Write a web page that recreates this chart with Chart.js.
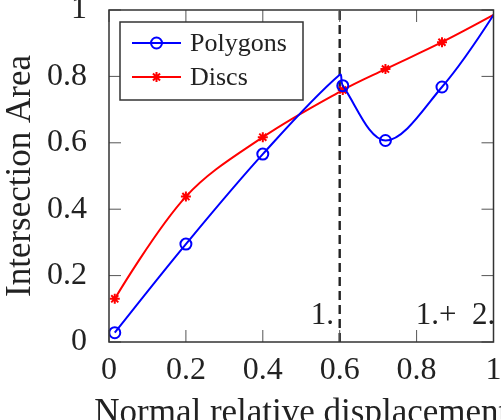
<!DOCTYPE html>
<html>
<head>
<meta charset="utf-8">
<script src="https://cdn.jsdelivr.net/npm/chart.js@4"></script>
<style>
  html, body { margin: 0; padding: 0; background: #fff; overflow: hidden; }
  #wrap { width: 501px; height: 420px; overflow: hidden; }
</style>
</head>
<body>
<div id="wrap"><canvas id="chart" width="501" height="440"></canvas></div>
<script>
// Polygons series (points without a marker listed in polyNoMark)
const polyX = [0.015, 0.2, 0.4, 0.6, 0.608, 0.719, 0.866, 1.0];
const polyY = [0.028, 0.295, 0.566, 0.805, 0.772, 0.607, 0.768, 0.985];
const polyNoMark = [3, 7];

// Discs series
const discX = [0.015, 0.2, 0.4, 0.608, 0.719, 0.866, 1.0];
const discY = [0.13, 0.438, 0.617, 0.759, 0.822, 0.903, 0.985];
const discNoMark = [6];

// axes
const xTicks = [0, 0.2, 0.4, 0.6, 0.8, 1];
const yTicks = [0, 0.2, 0.4, 0.6, 0.8, 1];
const splitX = 0.6;
const noteText = ['1.', '1.+\u20022.'];
const noteX = [0.585, 0.798];
const noteY = [0.078, 0.078];

const SERIF = "'Liberation Serif', 'Times New Roman', serif";
const INK = '#222';

const toPoints = (xs, ys) => xs.map((x, i) => ({ x: x, y: ys[i] }));

function drawMarker(ctx, ds, x, y) {
    ctx.save();
    ctx.strokeStyle = ds.borderColor;
    ctx.lineWidth = ds.pointBorderWidth;
    ctx.beginPath();
    if (ds.pointStyle === 'circle') {
        ctx.arc(x, y, 5.5, 0, Math.PI * 2);
    } else {
        const r = 5;
        for (let k = 0; k < 4; k++) {
            const a = k * Math.PI / 4;
            ctx.moveTo(x - r * Math.cos(a), y - r * Math.sin(a));
            ctx.lineTo(x + r * Math.cos(a), y + r * Math.sin(a));
        }
    }
    ctx.stroke();
    ctx.restore();
}

// pgfplots-like "smooth": the curve leaves the end points towards the
// neighbour's control point instead of along the chord
const smoothEnds = {
    id: 'smoothEnds',
    beforeDatasetsDraw(chart) {
        chart.data.datasets.forEach((ds, i) => {
            const meta = chart.getDatasetMeta(i);
            const line = meta.dataset;
            const pts = meta.data;
            if (!line || !pts.length || typeof line.updateControlPoints !== 'function') return;
            line.updateControlPoints(chart.chartArea, 'x');
            const first = pts[0], last = pts[pts.length - 1];
            first.cp2x = first.x; first.cp2y = first.y;
            last.cp1x = last.x; last.cp1y = last.y;
            line._path = undefined;
        });
    }
};

const framePlugin = {
    id: 'frame',
    beforeDatasetsDraw(chart) {
        const { ctx, chartArea: a, scales: { x } } = chart;
        const sx = x.getPixelForValue(splitX);
        ctx.save();
        ctx.strokeStyle = INK;
        ctx.lineWidth = 2.4;
        ctx.setLineDash([9, 5]);
        ctx.beginPath();
        ctx.moveTo(sx, a.bottom);
        ctx.lineTo(sx, a.top);
        ctx.stroke();
        ctx.restore();
    },
    afterDatasetsDraw(chart) {
        const { ctx, chartArea: a, scales: { x, y } } = chart;
        ctx.save();

        // inner tick marks
        ctx.strokeStyle = '#555';
        ctx.lineWidth = 1;
        ctx.beginPath();
        xTicks.forEach(v => {
            const px = x.getPixelForValue(v);
            ctx.moveTo(px, a.bottom); ctx.lineTo(px, a.bottom - 12);
            ctx.moveTo(px, a.top); ctx.lineTo(px, a.top + 12);
        });
        yTicks.forEach(v => {
            const py = y.getPixelForValue(v);
            ctx.moveTo(a.left, py); ctx.lineTo(a.left + 12, py);
            ctx.moveTo(a.right, py); ctx.lineTo(a.right - 12, py);
        });
        ctx.stroke();

        // frame
        ctx.strokeStyle = '#333';
        ctx.lineWidth = 1.5;
        ctx.strokeRect(a.left, a.top, a.right - a.left, a.bottom - a.top);

        // region notes
        ctx.fillStyle = INK;
        ctx.font = '31px ' + SERIF;
        ctx.textBaseline = 'middle';
        noteText.forEach((t, i) => {
            ctx.textAlign = i === 0 ? 'right' : 'left';
            ctx.fillText(t, x.getPixelForValue(noteX[i]), y.getPixelForValue(noteY[i]));
        });

        // legend box
        const lx = a.left + 11, ly = a.top + 12;
        ctx.fillStyle = '#fff';
        ctx.fillRect(lx, ly, 183, 78);
        ctx.strokeStyle = '#333';
        ctx.lineWidth = 1.5;
        ctx.strokeRect(lx, ly, 183, 78);
        ctx.font = '26px ' + SERIF;
        ctx.textAlign = 'left';
        chart.data.datasets.forEach((ds, i) => {
            const ry = ly + 21 + i * 34;
            ctx.strokeStyle = ds.borderColor;
            ctx.lineWidth = ds.borderWidth;
            ctx.beginPath();
            ctx.moveTo(lx + 12, ry);
            ctx.lineTo(lx + 61, ry);
            ctx.stroke();
            drawMarker(ctx, ds, lx + 36.5, ry);
            ctx.fillStyle = INK;
            ctx.fillText(ds.label, lx + 70, ry + 1);
        });

        // x axis title (wider than the plot, cut off by the page)
        ctx.font = '35px ' + SERIF;
        ctx.textAlign = 'center';
        ctx.textBaseline = 'alphabetic';
        ctx.fillText('Normal relative displacement', (a.left + a.right) / 2, 423);
        ctx.restore();
    }
};

new Chart(document.getElementById('chart').getContext('2d'), {
    type: 'line',
    data: {
        datasets: [{
            label: 'Polygons',
            data: toPoints(polyX, polyY),
            borderColor: 'blue',
            borderWidth: 2,
            pointStyle: 'circle',
            pointRadius: c => polyNoMark.includes(c.dataIndex) ? 0 : 5.5,
            pointBorderWidth: 2,
            pointBorderColor: 'blue',
            pointBackgroundColor: 'rgba(0,0,0,0)',
            tension: 0.35,
            fill: false
        }, {
            label: 'Discs',
            data: toPoints(discX, discY),
            borderColor: 'red',
            borderWidth: 2,
            pointStyle: 'star',
            pointRadius: c => discNoMark.includes(c.dataIndex) ? 0 : 5,
            pointBorderWidth: 2,
            pointBorderColor: 'red',
            pointBackgroundColor: 'red',
            tension: 0.35,
            fill: false
        }]
    },
    options: {
        responsive: false,
        animation: false,
        layout: { padding: { top: 10, right: 6, left: 0, bottom: 0 } },
        plugins: { legend: { display: false }, tooltip: { enabled: false } },
        scales: {
            x: {
                type: 'linear',
                min: 0,
                max: 1,
                grid: { display: false },
                border: { display: false },
                afterBuildTicks: s => { s.ticks = xTicks.map(v => ({ value: v })); },
                ticks: {
                    padding: 1,
                    autoSkip: false,
                    maxRotation: 0,
                    color: INK,
                    font: { family: SERIF, size: 32 },
                    callback: v => String(v)
                },
                afterFit: s => { s.height = 98; s.paddingLeft = 0; s.paddingRight = 0; }
            },
            y: {
                min: 0,
                max: 1,
                grid: { display: false },
                border: { display: false },
                afterBuildTicks: s => { s.ticks = yTicks.map(v => ({ value: v })); },
                ticks: {
                    padding: 14,
                    color: INK,
                    font: { family: SERIF, size: 32 },
                    callback: v => String(v)
                },
                title: {
                    display: true,
                    text: 'Intersection Area',
                    color: INK,
                    padding: 0,
                    font: { family: SERIF, size: 35 }
                },
                afterFit: s => { s.width = 109; s.paddingTop = 0; s.paddingBottom = 0; }
            }
        }
    },
    plugins: [smoothEnds, framePlugin]
});
</script>
</body>
</html>
